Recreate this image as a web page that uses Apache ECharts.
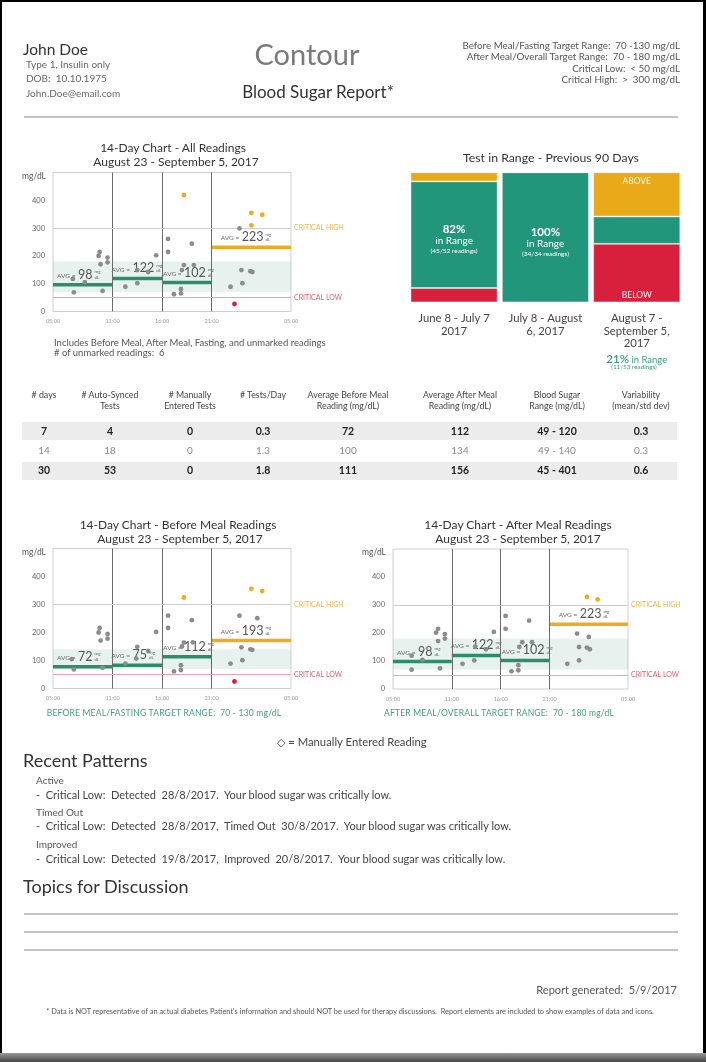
<!DOCTYPE html>
<html><head><meta charset="utf-8">
<script src="https://cdn.jsdelivr.net/npm/echarts@6/dist/echarts.min.js"></script>
<style>
html,body{margin:0;padding:0;background:#000;}
#page{position:relative;width:706px;height:1062px;background:#000;overflow:hidden;font-family:Lato,'Noto Sans',sans-serif;}
#paper{position:absolute;left:2px;top:2px;width:701px;height:1051px;background:#fff;}
#shadow{position:absolute;left:0;top:1053px;width:706px;height:9px;background:linear-gradient(#999,#444);}
#chart{position:absolute;left:0;top:0;width:706px;height:1062px;}
.t{position:absolute;white-space:pre;line-height:1.15;}
.hr{position:absolute;height:2px;background:#c4c4c4;}
.band{position:absolute;background:#ececec;}
</style></head>
<body>
<div id="page"><div id="paper"></div><div id="shadow"></div><div id="chart"></div></div>
<script>
// ---------------- DATA ----------------
const hourTicks = [5, 11, 16, 21, 29];
const hourTickLabels = ['05:00', '11:00', '16:00', '21:00', '05:00'];
const segStart = [5, 11, 16, 21];
const segEnd = [11, 16, 21, 29];

// [hour of day (5..29), mg/dL]
const allReadings = [[7.1,69],[7.0,117],[8.2,106],[9.7,214],[9.6,200],[9.8,170],[10.5,194],[10.5,177],[10.0,74],
  [12.3,89],[13.5,102],[13.5,149],[14.6,142],[15.4,202],[16.6,261],[16.6,214],[17.2,62],[17.9,81],[17.9,65],
  [18.2,167],[18.0,149],[19.0,244],[19.2,167],[22.9,89],[23.8,299],[24.0,149],[24.1,102],[24.9,145],[25.1,142],
  [18.2,419],[25.0,355],[26.1,348],[25.0,310],[23.3,27]];
const beforeMealReadings = [[7.1,68],[6.9,105],[9.7,216],[9.6,200],[9.8,171],[10.5,195],[10.5,178],[10.0,74],
  [12.3,89],[13.4,107],[13.5,149],[14.6,134],[15.4,202],[16.6,260],[16.6,216],[17.2,61],[17.9,83],[17.9,66],
  [18.2,164],[18.0,150],[19.0,244],[19.1,165],[22.9,89],[23.8,260],[24.0,147],[24.1,101],[24.9,140],[25.1,138],
  [25.6,251],[18.2,325],[25.0,356],[26.1,348],[23.3,25]];
const afterMealReadings = [[6.9,69],[6.9,119],[8.0,104],[9.6,215],[9.4,201],[9.6,171],[10.3,196],[10.3,180],[9.8,74],
  [12.1,90],[13.3,102],[13.4,151],[14.5,142],[15.3,204],[16.5,261],[16.5,215],[17.1,63],[17.8,85],[17.8,67],
  [18.2,167],[17.9,150],[18.9,244],[19.2,167],[22.8,90],[23.8,198],[24.0,150],[24.0,102],[24.8,148],[25.1,142],
  [25.0,186],[24.8,329],[25.9,320]];

const allAvgLabel = [98, 122, 102, 223];
const allAvgLevel = [96, 119, 104, 231];
const beforeAvgLabel = [72, 75, 112, 193];
const beforeAvgLevel = [78, 83, 113, 171];
const afterAvgLabel = [98, 122, 102, 223];
const afterAvgLevel = [98, 120, 102, 231];

const allTarget = [70, 180];
const beforeTarget = [70, 140];
const afterTarget = [70, 180];
const criticalLow = 50, criticalHigh = 300;

const rangePeriods = ['June 8 - July 7\n2017', 'July 8 - August\n6, 2017', 'August 7 -\nSeptember 5,\n2017'];
const pctBelow = [11, 0, 45];
const pctInRange = [82, 100, 21];
const pctAbove = [7, 0, 34];
const inRangeCounts = ['45/52', '34/34', '11/53'];

const tableHeaders = ['# days', '# Auto-Synced\nTests', '# Manually\nEntered Tests', '# Tests/Day',
  'Average Before Meal\nReading (mg/dL)', 'Average After Meal\nReading (mg/dL)', 'Blood Sugar\nRange (mg/dL)', 'Variability\n(mean/std dev)'];
const tableRows = [
  ['7', '4', '0', '0.3', '72', '112', '49 - 120', '0.3'],
  ['14', '18', '0', '1.3', '100', '134', '49 - 140', '0.3'],
  ['30', '53', '0', '1.8', '111', '156', '45 - 401', '0.6']];

// ---------------- STYLE ----------------
const FONT = 'Lato, "Noto Sans", sans-serif';
const C_GREEN = '#2b8d6d', C_ORANGE = '#ecac1f', C_RED = '#d51f3a', C_GRAY = '#8c8c8c';
const BAR_GREEN = '#22967a', BAR_ORANGE = '#e8aa18', BAR_RED = '#d81f3b';
const LABEL_DX = [4, -1, 1, 9];

const page = document.getElementById('page');
function T(txt, x, y, o = {}) {
  const d = document.createElement('div');
  d.className = 't'; d.textContent = txt;
  d.style.left = x + 'px'; d.style.top = y + 'px';
  d.style.fontSize = (o.s || 9) + 'px'; d.style.color = o.c || '#444';
  if (o.w) d.style.fontWeight = o.w;
  if (o.ls) d.style.letterSpacing = o.ls + 'px';
  if (o.lh) d.style.lineHeight = o.lh + 'px';
  const tx = o.a === 'center' ? '-50%' : o.a === 'right' ? '-100%' : '0';
  d.style.textAlign = o.a || 'left';
  d.style.transform = `translate(${tx},-50%)`;
  page.appendChild(d); return d;
}
function HR(x, y, w) { const d = document.createElement('div'); d.className = 'hr'; d.style.left = x + 'px'; d.style.top = y + 'px'; d.style.width = w + 'px'; page.appendChild(d); }
function BAND(x, y, w, h) { const d = document.createElement('div'); d.className = 'band'; d.style.left = x + 'px'; d.style.top = y + 'px'; d.style.width = w + 'px'; d.style.height = h + 'px'; page.insertBefore(d, document.getElementById('chart')); }

// header
T('John Doe', 23, 50, { s: 15.5, c: '#333' });
T('Type 1, Insulin only', 26, 65, { s: 10, c: '#666' });
T('DOB:  10.10.1975', 26, 79, { s: 10, c: '#666' });
T('John.Doe@email.com', 26, 94, { s: 10, c: '#666' });
T('Contour', 307, 54, { s: 29, c: '#7a7a7a', a: 'center' });
T('Blood Sugar Report*', 318, 91.5, { s: 17, c: '#333', a: 'center' });
T('Before Meal/Fasting Target Range:  70 -130 mg/dL', 680, 45.5, { s: 9.8, c: '#555', a: 'right' });
T('After Meal/Overall Target Range:  70 - 180 mg/dL', 680, 57, { s: 9.8, c: '#555', a: 'right' });
T('Critical Low:  < 50 mg/dL', 680, 68.5, { s: 9.8, c: '#555', a: 'right' });
T('Critical High:  >  300 mg/dL', 680, 80, { s: 9.8, c: '#555', a: 'right' });
HR(24, 116, 654);

// chart titles
T('14-Day Chart - All Readings', 173, 147.5, { s: 12, c: '#333', a: 'center' });
T('August 23 - September 5, 2017', 176, 161.5, { s: 12, c: '#333', a: 'center' });
T('mg/dL', 46, 177, { s: 8.5, c: '#555', a: 'right' });
T('Includes Before Meal, After Meal, Fasting, and unmarked readings', 54, 343, { s: 9.5, c: '#555' });
T('# of unmarked readings:  6', 54, 353, { s: 9.5, c: '#555' });
T('Test in Range - Previous 90 Days', 551, 158, { s: 12.3, c: '#333', a: 'center' });
T('21%', 629, 359, { s: 11.5, c: '#3a9b80', a: 'right', w: 600 });
T(' in Range', 629, 359.5, { s: 9.5, c: '#3a9b80' });
T('(11/53 readings)', 634, 366.5, { s: 6.3, c: '#3a9b80', a: 'center' });

T('14-Day Chart - Before Meal Readings', 178, 525, { s: 12, c: '#333', a: 'center' });
T('August 23 - September 5, 2017', 180, 539, { s: 12, c: '#333', a: 'center' });
T('mg/dL', 46, 553, { s: 8.5, c: '#555', a: 'right' });
T('14-Day Chart - After Meal Readings', 518, 525, { s: 12, c: '#333', a: 'center' });
T('August 23 - September 5, 2017', 518, 539, { s: 12, c: '#333', a: 'center' });
T('mg/dL', 386, 553, { s: 8.5, c: '#555', a: 'right' });
T('BEFORE MEAL/FASTING TARGET RANGE:  70 - 130 mg/dL', 164, 713.5, { s: 8.5, c: '#3d9d84', a: 'center', ls: 0.2 });
T('AFTER MEAL/OVERALL TARGET RANGE:  70 - 180 mg/dL', 499, 713.5, { s: 8.5, c: '#3d9d84', a: 'center', ls: 0.2 });
T('\u25C7 = Manually Entered Reading', 352, 741, { s: 11.3, c: '#444', a: 'center' });

// table
const colX = [44, 110, 190, 263, 348, 460, 557, 641];
BAND(22, 422, 655, 18); BAND(22, 461.5, 655, 18);
tableHeaders.forEach((h, i) => {
  const two = h.indexOf('\n') >= 0;
  T(h, colX[i], two ? 400 : 395, { s: 8.8, c: '#444', a: 'center', lh: 10.5 });
});
const rowY = [431, 451, 470];
tableRows.forEach((r, ri) => r.forEach((v, ci) => {
  T(v, colX[ci], rowY[ri], ri === 1 ? { s: 10, c: '#8a8a8a', a: 'center' } : { s: 10.5, c: '#222', a: 'center', w: 700 });
}));

// patterns
T('Recent Patterns', 23, 760, { s: 18, c: '#333' });
T('Active', 36, 781, { s: 10, c: '#555' });
T('-  Critical Low:  Detected  28/8/2017.  Your blood sugar was critically low.', 36, 794.5, { s: 11, c: '#444' });
T('Timed Out', 36, 812.5, { s: 10, c: '#555' });
T('-  Critical Low:  Detected  28/8/2017,  Timed Out  30/8/2017.  Your blood sugar was critically low.', 36, 825.5, { s: 11, c: '#444' });
T('Improved', 36, 845, { s: 10, c: '#555' });
T('-  Critical Low:  Detected  19/8/2017,  Improved  20/8/2017.  Your blood sugar was critically low.', 36, 858.5, { s: 11, c: '#444' });
T('Topics for Discussion', 23, 885.5, { s: 18, c: '#333' });
HR(24, 913, 654); HR(24, 931, 654); HR(24, 949, 654);
T('Report generated:  5/9/2017', 677, 990, { s: 11, c: '#555', a: 'right' });
T("* Data is NOT representative of an actual diabetes Patient's information and should NOT be used for therapy discussions.  Report elements are included to show examples of data and icons.", 350, 1012, { s: 7.4, c: '#555', a: 'center' });

// ---------------- CHARTS ----------------
const mctx = document.createElement('canvas').getContext('2d');
function measure(txt, size) { mctx.font = size + 'px ' + FONT; return mctx.measureText(txt).width; }

function avgRenderer(params, api) {
  const i = params.dataIndex;
  const lv = api.value(2);
  const p0 = api.coord([api.value(0), lv]);
  const p1 = api.coord([api.value(1), lv]);
  const col = api.value(4) ? C_ORANGE : C_GREEN;
  const num = String(api.value(3));
  const x = p0[0] + LABEL_DX[i], y = p0[1] - 10;
  const nw = measure(num, 12.5);
  return {
    type: 'group', children: [
      { type: 'line', shape: { x1: p0[0], y1: p0[1], x2: p1[0], y2: p1[1] }, style: { stroke: col, lineWidth: 3.5 } },
      { type: 'text', x: x, y: y + 1, style: { text: 'AVG =', fontSize: 6.5, fontFamily: FONT, fill: '#666', verticalAlign: 'middle' } },
      { type: 'text', x: x + 21, y: y, style: { text: num, fontSize: 12.5, fontFamily: FONT, fill: '#555', verticalAlign: 'middle' } },
      { type: 'text', x: x + 23 + nw, y: y - 3, style: { text: 'mg', fontSize: 4.5, fontFamily: FONT, fill: '#666', verticalAlign: 'middle' } },
      { type: 'text', x: x + 23 + nw, y: y + 2.5, style: { text: 'dL', fontSize: 4.5, fontFamily: FONT, fill: '#666', verticalAlign: 'middle' } }
    ]
  };
}

function scatterAxes(gi) {
  return {
    x: {
      type: 'value', gridIndex: gi, min: 5, max: 29, interval: 1,
      axisLine: { show: false }, axisTick: { show: false }, splitLine: { show: false },
      axisLabel: {
        fontSize: 5.5, color: '#999', fontFamily: FONT, margin: 7, hideOverlap: false,
        formatter: v => { const k = hourTicks.indexOf(v); return k >= 0 ? hourTickLabels[k] : ''; }
      }
    },
    y: {
      type: 'value', gridIndex: gi, min: 0, max: 500, interval: 100,
      axisLine: { show: false }, axisTick: { show: false }, splitLine: { show: false },
      axisLabel: { fontSize: 7.5, color: '#666', fontFamily: FONT, margin: 8, formatter: v => v >= 500 ? '' : String(v) }
    }
  };
}

function scatterSeries(gi, data, target, highColor) {
  return {
    type: 'scatter', xAxisIndex: gi, yAxisIndex: gi, data: data, symbolSize: 4.8, z: 5,
    itemStyle: { color: p => p.value[1] > criticalHigh ? C_ORANGE : (p.value[1] < criticalLow ? C_RED : C_GRAY), opacity: 1 },
    markArea: { silent: true, itemStyle: { color: 'rgba(70,155,130,0.13)' }, data: [[{ yAxis: target[0] }, { yAxis: target[1] }]] },
    markLine: {
      silent: true, symbol: ['none', 'none'], animation: false,
      data: [
        { xAxis: 11, lineStyle: { color: '#6a6a6a', width: 1, type: 'solid' }, label: { show: false } },
        { xAxis: 16, lineStyle: { color: '#6a6a6a', width: 1, type: 'solid' }, label: { show: false } },
        { xAxis: 21, lineStyle: { color: '#6a6a6a', width: 1, type: 'solid' }, label: { show: false } },
        { yAxis: criticalHigh, lineStyle: { color: highColor, width: 1, type: 'solid' },
          label: { show: true, position: 'end', formatter: 'CRITICAL HIGH', color: '#efb447', fontSize: 7, fontFamily: FONT, distance: 3, padding: [0, 0, 8, 0] } },
        { yAxis: criticalLow, lineStyle: { color: '#f2a2ac', width: 1, type: 'solid' },
          label: { show: true, position: 'end', formatter: 'CRITICAL LOW', color: '#e0606f', fontSize: 7, fontFamily: FONT, distance: 3, padding: [0, 0, 9, 0] } }
      ]
    }
  };
}

function avgSeries(gi, levels, labels) {
  return {
    type: 'custom', xAxisIndex: gi, yAxisIndex: gi, z: 3, clip: false,
    renderItem: avgRenderer,
    data: segStart.map((s, i) => [s, segEnd[i], levels[i], labels[i], i === 3 ? 1 : 0])
  };
}

const grids = [
  { left: 53, top: 172.5, width: 238, height: 139 },
  { left: 53, top: 548.5, width: 238, height: 140 },
  { left: 393, top: 549, width: 235, height: 140 },
  { left: 408.4, top: 172.3, width: 274, height: 130 }
].map((g, i) => Object.assign(g, i < 3 ? { show: true, borderColor: '#cfcfcf', borderWidth: 1, backgroundColor: 'transparent' } : {}));

const a0 = scatterAxes(0), a1 = scatterAxes(1), a2 = scatterAxes(2);

function barLabelInRange(i) {
  if (i === 2) return { show: false };
  return {
    show: true, position: 'inside', offset: [0, 5],
    formatter: `{p|${pctInRange[i]}%}\n{r|in Range}\n{s|(${inRangeCounts[i]} readings)}`,
    rich: {
      p: { fontSize: 11.5, fontWeight: 700, color: '#fff', fontFamily: FONT, lineHeight: 12 },
      r: { fontSize: 10, color: '#fff', fontFamily: FONT, lineHeight: 11 },
      s: { fontSize: 6.5, color: '#fff', fontFamily: FONT, lineHeight: 10 }
    }
  };
}

const option = {
  animation: false,
  backgroundColor: 'transparent',
  grid: grids,
  xAxis: [a0.x, a1.x, a2.x, {
    type: 'category', gridIndex: 3, data: rangePeriods,
    axisLine: { show: false }, axisTick: { show: false },
    axisLabel: { fontSize: 11.3, color: '#444', fontFamily: FONT, lineHeight: 12.5, margin: 10, interval: 0 }
  }],
  yAxis: [a0.y, a1.y, a2.y, { type: 'value', gridIndex: 3, min: 0, max: 100, show: false }],
  series: [
    scatterSeries(0, allReadings, allTarget, '#cfcfcf'),
    avgSeries(0, allAvgLevel, allAvgLabel),
    scatterSeries(1, beforeMealReadings, beforeTarget, '#cfcfcf'),
    avgSeries(1, beforeAvgLevel, beforeAvgLabel),
    scatterSeries(2, afterMealReadings, afterTarget, '#f4c878'),
    avgSeries(2, afterAvgLevel, afterAvgLabel),
    {
      type: 'bar', xAxisIndex: 3, yAxisIndex: 3, stack: 'r', barWidth: 87,
      itemStyle: { color: BAR_RED, borderColor: 'rgba(255,255,255,0.55)', borderWidth: 0.8 },
      data: pctBelow.map((v, i) => ({ value: v, label: i === 2 ? { show: true, position: 'insideBottom', formatter: 'BELOW', color: '#fff', fontSize: 8.5, fontFamily: FONT, distance: 3 } : { show: false } }))
    },
    {
      type: 'bar', xAxisIndex: 3, yAxisIndex: 3, stack: 'r', barWidth: 87,
      itemStyle: { color: BAR_GREEN, borderColor: 'rgba(255,255,255,0.55)', borderWidth: 0.8 },
      data: pctInRange.map((v, i) => ({ value: v, label: barLabelInRange(i) }))
    },
    {
      type: 'bar', xAxisIndex: 3, yAxisIndex: 3, stack: 'r', barWidth: 87,
      itemStyle: { color: BAR_ORANGE, borderColor: 'rgba(255,255,255,0.55)', borderWidth: 0.8 },
      data: pctAbove.map((v, i) => ({ value: v, label: i === 2 ? { show: true, position: 'insideTop', formatter: 'ABOVE', color: '#fff', fontSize: 8.5, fontFamily: FONT, distance: 4 } : { show: false } }))
    }
  ]
};

const chart = echarts.init(document.getElementById('chart'), null, { renderer: 'canvas', width: 706, height: 1062 });
chart.setOption(option);
</script>
</body></html>
